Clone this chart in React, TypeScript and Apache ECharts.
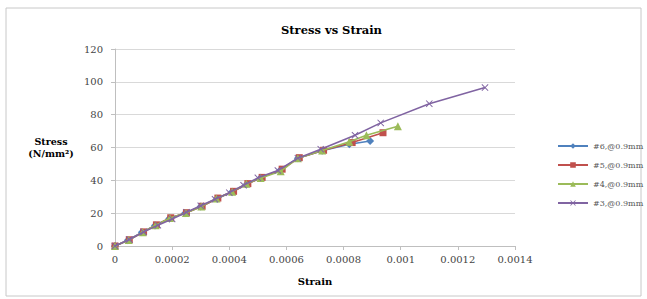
import React, { useEffect, useRef } from "react";
import * as echarts from "echarts";

const seriesNames = ["#6,@0.9mm", "#5,@0.9mm", "#4,@0.9mm", "#3,@0.9mm"];
const seriesColors = ["#4F81BD", "#C0504D", "#9BBB59", "#8064A2"];

const strain6 = [0, 0.000045, 0.000094, 0.00014, 0.00019, 0.000245, 0.0003, 0.000357, 0.00041, 0.000462, 0.00051, 0.00058, 0.00064, 0.000725, 0.00082, 0.000893];
const stress6 = [0, 3.5, 8.3, 12.5, 16.8, 20, 24, 28.8, 33, 37.8, 41.5, 46.5, 53.5, 58, 62, 64];

const strain5 = [0, 0.00005, 0.0001, 0.000145, 0.000195, 0.00025, 0.000305, 0.00036, 0.000415, 0.000465, 0.000515, 0.000585, 0.000645, 0.00073, 0.00083, 0.000938];
const stress5 = [0, 3.8, 8.6, 12.9, 17.2, 20.3, 24.2, 29.2, 33.3, 38, 41.8, 46.8, 53.8, 58.3, 63, 69];

const strain4 = [0, 0.000048, 0.000097, 0.000142, 0.000192, 0.000248, 0.000302, 0.000355, 0.00041, 0.00046, 0.00051, 0.00058, 0.00064, 0.000725, 0.00082, 0.00088, 0.00099];
const stress4 = [0, 3.6, 8.4, 12.6, 17, 20.1, 24.1, 29, 33.1, 37.9, 41.4, 45.5, 53.5, 58.2, 63.5, 67.5, 73];

const strain3 = [0, 0.00005, 0.0001, 0.00015, 0.0002, 0.00025, 0.0003, 0.00035, 0.0004, 0.00045, 0.0005, 0.00057, 0.00064, 0.00072, 0.00084, 0.00093, 0.0011, 0.001295];
const stress3 = [0, 4, 8.5, 12.7, 16.5, 20.5, 24.5, 28.5, 32.5, 37, 41.5, 46, 53.5, 59, 67.5, 75, 86.7, 96.5];

const xTicks = [0, 0.0002, 0.0004, 0.0006, 0.0008, 0.001, 0.0012, 0.0014];
const yTicks = [0, 20, 40, 60, 80, 100, 120];

const FONT = "'DejaVu Serif', 'Liberation Serif', serif";
const CROSS = "path://M0,1L1,0L5,4L9,0L10,1L6,5L10,9L9,10L5,6L1,10L0,9L4,5Z";

function pairs(xs: number[], ys: number[]) {
  return xs.map((x, i) => [x, ys[i]]);
}

export default function App() {
  const ref = useRef<HTMLDivElement>(null);
  useEffect(() => {
    if (!ref.current) return;
    const chart = echarts.init(ref.current, null, { renderer: "svg" });
    const data = [
      pairs(strain6, stress6),
      pairs(strain5, stress5),
      pairs(strain4, stress4),
      pairs(strain3, stress3),
    ];
    const symbols = ["diamond", "rect", "triangle", CROSS];
    const sizes = [8, 7, 8, 7];
    chart.setOption({
      animation: false,
      backgroundColor: "#ffffff",
      title: {
        text: "Stress vs Strain",
        left: 276,
        top: 19,
        textStyle: { fontFamily: FONT, fontSize: 11.5, fontWeight: "bold", color: "#000" },
      },
      legend: {
        orient: "vertical",
        left: 552,
        top: 137,
        itemWidth: 30,
        itemHeight: 7,
        itemGap: 11,
        data: seriesNames,
        textStyle: { fontFamily: FONT, fontSize: 8, color: "#555" },
      },
      grid: { left: 115, right: 132, top: 49, bottom: 53, containLabel: false },
      xAxis: {
        type: "value",
        min: 0,
        max: xTicks[xTicks.length - 1],
        interval: xTicks[1] - xTicks[0],
        name: "Strain",
        nameLocation: "middle",
        nameGap: 30,
        nameTextStyle: { fontFamily: FONT, fontSize: 10, fontWeight: "bold", color: "#000" },
        axisLine: { show: true, lineStyle: { color: "#bfbfbf" } },
        axisTick: { show: true, length: 4, lineStyle: { color: "#bfbfbf" } },
        splitLine: { show: false },
        axisLabel: {
          fontFamily: FONT,
          fontSize: 10,
          color: "#444",
          margin: 8,
          formatter: (v: number) => String(parseFloat(v.toPrecision(6))),
        },
      },
      yAxis: {
        type: "value",
        min: 0,
        max: yTicks[yTicks.length - 1],
        interval: yTicks[1] - yTicks[0],
        axisLine: { show: true, lineStyle: { color: "#bfbfbf" } },
        axisTick: { show: true, length: 4, lineStyle: { color: "#bfbfbf" } },
        splitLine: { show: true, lineStyle: { color: "#d9d9d9" } },
        axisLabel: { fontFamily: FONT, fontSize: 10, color: "#444", margin: 12 },
      },
      graphic: [
        {
          type: "rect",
          shape: { x: 6, y: 8, width: 635, height: 288 },
          style: { fill: "none", stroke: "#c8c8c8", lineWidth: 1 },
          silent: true,
        },
        {
          type: "text",
          x: 51,
          y: 135,
          style: {
            text: "Stress\n(N/mm²)",
            fontFamily: FONT,
            fontSize: 9.5,
            fontWeight: "bold",
            fill: "#000",
            align: "center",
            lineHeight: 12,
          },
        },
      ],
      series: seriesNames.map((name, i) => ({
        name,
        type: "line",
        data: data[i],
        symbol: symbols[i],
        symbolSize: sizes[i],
        showSymbol: true,
        lineStyle: { color: seriesColors[i], width: 1.6 },
        itemStyle: { color: seriesColors[i] },
        z: 2 + i,
      })),
    });
    return () => chart.dispose();
  }, []);
  return (
    <div
      ref={ref}
      style={{ position: "fixed", left: 0, top: 0, width: 647, height: 299 }}
    />
  );
}
